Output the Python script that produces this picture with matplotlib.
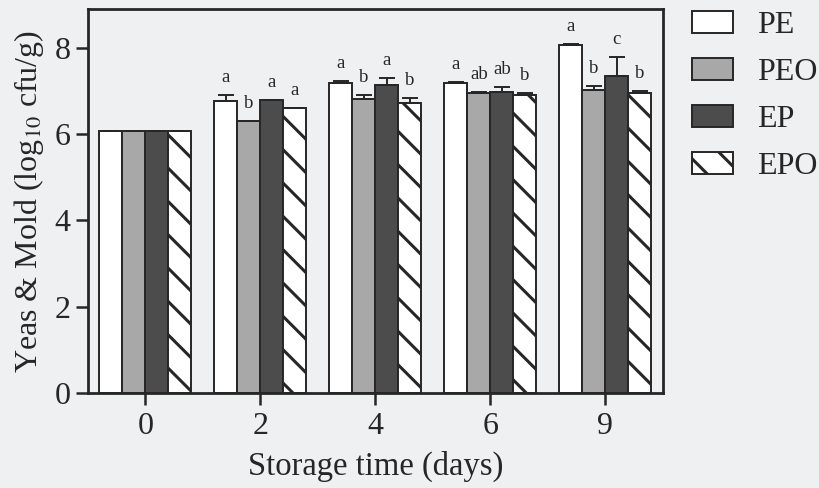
import matplotlib
matplotlib.use("Agg")
import matplotlib.pyplot as plt
import numpy as np

days = ["0", "2", "4", "6", "9"]
series = ["PE", "PEO", "EP", "EPO"]
PE = [6.08, 6.77, 7.18, 7.18, 8.06]
PEO = [6.08, 6.30, 6.81, 6.95, 7.02]
EP = [6.08, 6.78, 7.13, 6.97, 7.34]
EPO = [6.08, 6.60, 6.71, 6.91, 6.94]
PE_err = [0.0, 0.13, 0.06, 0.03, 0.02]
PEO_err = [0.0, 0.0, 0.09, 0.02, 0.09]
EP_err = [0.0, 0.0, 0.16, 0.13, 0.44]
EPO_err = [0.0, 0.0, 0.12, 0.05, 0.06]
letters = {
    "PE": ["", "a", "a", "a", "a"],
    "PEO": ["", "b", "b", "ab", "b"],
    "EP": ["", "a", "a", "ab", "c"],
    "EPO": ["", "a", "b", "b", "b"],
}

plt.rcParams['font.family'] = ['Liberation Serif', 'DejaVu Serif']
plt.rcParams['mathtext.fontset'] = 'stix'
plt.rcParams['hatch.linewidth'] = 2.2

bg = '#eef0f2'
ink = '#262626'
fig = plt.figure(figsize=(8.19, 4.88), dpi=100, facecolor=bg)
ax = fig.add_axes([88 / 819, 1 - 393 / 488, 574.7 / 819, 383.7 / 488], facecolor=bg)

vals = [PE, PEO, EP, EPO]
errs = [PE_err, PEO_err, EP_err, EPO_err]
styles = [
    dict(color='white', hatch=None),
    dict(color='#a8a8a8', hatch=None),
    dict(color='#4c4c4c', hatch=None),
    dict(color='white', hatch='\\'),
]
x = np.arange(len(days))
w = 0.2
for i, (name, v, e, st) in enumerate(zip(series, vals, errs, styles)):
    pos = x + (i - 1.5) * w
    ax.bar(pos, v, w, color=st['color'], edgecolor=ink, linewidth=1.4,
           hatch=st['hatch'], label=name)
    ax.errorbar(pos, v, yerr=[np.zeros(len(e)), e], fmt='none', ecolor=ink,
                elinewidth=1.4, capsize=6, capthick=1.4)
    for j, lab in enumerate(letters[name]):
        if lab:
            ax.text(pos[j], v[j] + e[j] + 0.3, lab, ha='center', va='baseline',
                    fontsize=13.5, color=ink)

ax.set_xlim(-0.5, 4.5)
ax.set_ylim(0, 8.89)
ax.set_xticks(x)
ax.set_xticklabels(days)
ax.set_yticks([0, 2, 4, 6, 8])
ax.tick_params(axis='both', labelsize=23, width=1.8, length=8.5, colors=ink, direction='out')
ax.tick_params(axis='x', pad=5)
ax.tick_params(axis='y', pad=4)
for s in ax.spines.values():
    s.set_linewidth(2)
    s.set_color(ink)
ax.set_xlabel('Storage time (days)', fontsize=23.5, color=ink, labelpad=7)
ax.set_ylabel(r'Yeas & Mold (log$_{10}$ cfu/g)', fontsize=23, color=ink, labelpad=6)

leg = ax.legend(loc='upper left', bbox_to_anchor=(1.051, 0.996), frameon=False,
                fontsize=23, handlelength=1.28, handleheight=0.7, labelspacing=0.55,
                handletextpad=0.75, borderpad=0, borderaxespad=0)
for t in leg.get_texts():
    t.set_color(ink)

fig.savefig('out.png', dpi=100, facecolor=bg)
